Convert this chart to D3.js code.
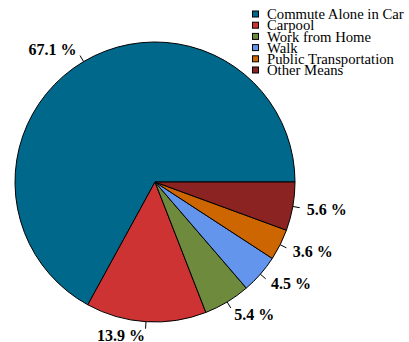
<!DOCTYPE html>
<html><head><meta charset="utf-8">
<script src="https://cdn.jsdelivr.net/npm/d3@7"></script>
<style>html,body{margin:0;padding:0;background:#fff;}</style>
</head><body>
<svg id="chart" width="409" height="342"></svg>
<script>
const categories = ["Commute Alone in Car","Carpool","Work from Home","Walk","Public Transportation","Other Means"];
const values = [67.1, 13.9, 5.4, 4.5, 3.6, 5.6];
const labels = ["67.1 %","13.9 %","5.4 %","4.5 %","3.6 %","5.6 %"];
const colors = ["#00688B","#CD3333","#6E8B3D","#6495ED","#CD6600","#8B2323"];

const svg = d3.select("#chart");
const cx = 155, cy = 182, r = 140;
const g = svg.append("g").attr("transform", `translate(${cx},${cy})`);

const pie = d3.pie().sort(null).value(d => d)
  .startAngle(Math.PI/2).endAngle(Math.PI/2 - 2*Math.PI);
const arcs = pie(values);
const arc = d3.arc().innerRadius(0).outerRadius(r);

g.selectAll("path.slice").data(arcs).enter().append("path")
  .attr("class","slice")
  .attr("d", arc)
  .attr("fill", (d,i) => colors[i])
  .attr("stroke", "#000").attr("stroke-width", 1);

arcs.forEach((d,i) => {
  const a = (d.startAngle + d.endAngle)/2;
  const ux = Math.sin(a), uy = -Math.cos(a);
  g.append("line")
    .attr("x1", ux*r).attr("y1", uy*r)
    .attr("x2", ux*r*1.05).attr("y2", uy*r*1.05)
    .attr("stroke","#000").attr("stroke-width",1);
  g.append("text")
    .attr("x", ux*r*1.1).attr("y", uy*r*1.1)
    .attr("dy","0.35em")
    .attr("text-anchor", ux < 0 ? "end" : "start")
    .style("font-family","Liberation Serif")
    .style("font-weight","bold").style("font-size","16px")
    .text(labels[i]);
});

const leg = svg.append("g");
categories.forEach((c,i) => {
  const y = 14 + i*11.2;
  leg.append("rect").attr("x",252.5).attr("y",y-3).attr("width",6).attr("height",6)
    .attr("fill",colors[i]).attr("stroke","#000").attr("stroke-width",1);
  leg.append("text").attr("x",267).attr("y",y).attr("dy","0.35em")
    .style("font-family","Liberation Serif")
    .style("font-size","14.7px").attr("fill","#000")
    .text(c);
});
</script>
</body></html>
